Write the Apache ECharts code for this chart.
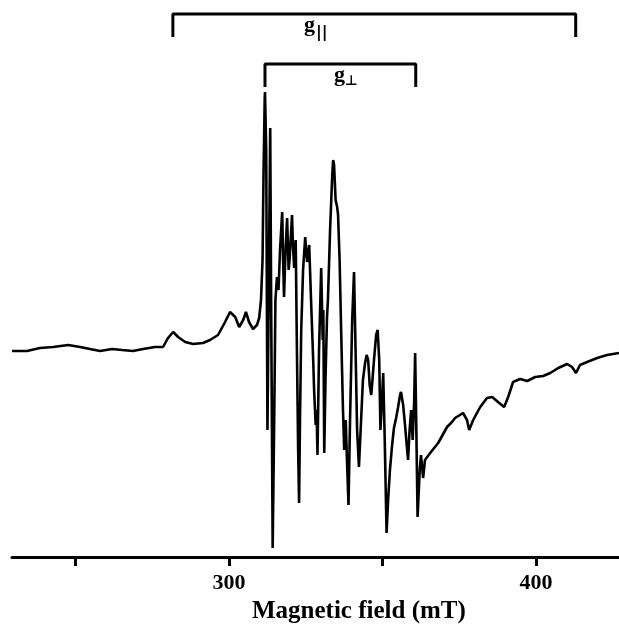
<!DOCTYPE html>
<html>
<head>
<meta charset="utf-8">
<script src="https://cdn.jsdelivr.net/npm/echarts@6/dist/echarts.min.js"></script>
<style>
  html, body { margin: 0; padding: 0; background: #fff; }
  #chart { width: 619px; height: 628px; }
</style>
</head>
<body>
<div id="chart"></div>
<script>
// EPR spectrum: magnetic field (mT) vs. first-derivative signal (arbitrary units)
const field = [
  229.3, 234.2, 238.4, 242.7, 247.6, 251.5, 254.7, 258.0, 261.9, 265.1,
  268.7, 272.0, 275.9, 278.5, 280.1, 281.8, 283.4, 285.7, 288.3, 291.5,
  293.8, 296.4, 298.7, 300.3, 302.0, 303.3, 304.6, 305.5, 306.5, 307.8,
  309.1, 309.8, 310.4, 310.9, 311.2, 311.6, 311.7, 312.1, 312.5, 312.9,
  313.4, 313.7, 314.2, 314.7, 315.1, 315.6, 316.1, 316.6, 317.3, 317.6,
  317.9, 318.4, 318.9, 319.4, 319.7, 320.5, 320.8, 321.2, 321.7, 322.1,
  322.5, 322.8, 323.1, 323.5, 324.1, 324.8, 325.4, 326.1, 326.7, 327.4,
  327.7, 328.2, 328.5, 328.8, 329.3, 330.0, 330.5, 330.7, 331.0, 331.4,
  331.9, 332.2, 332.9, 333.6, 333.9, 334.2, 334.7, 335.2, 335.5, 336.0,
  336.5, 337.1, 337.5, 338.0, 338.4, 338.9, 339.4, 340.1, 340.7, 341.2,
  341.7, 342.3, 343.0, 343.6, 344.3, 344.8, 345.3, 345.8, 346.3, 346.7,
  347.2, 347.9, 348.4, 348.9, 349.3, 349.8, 350.2, 350.7, 351.3, 351.8,
  352.4, 353.1, 353.7, 354.4, 355.0, 355.7, 356.0, 356.7, 357.3, 358.0,
  358.3, 358.8, 359.3, 359.8, 360.3, 360.6, 360.9, 361.4, 362.1, 362.5,
  363.2, 363.8, 365.5, 368.1, 371.0, 372.6, 373.6, 375.2, 376.2, 377.5,
  378.2, 379.5, 381.8, 384.0, 385.7, 387.6, 389.6, 390.9, 392.5, 394.8,
  397.1, 399.7, 402.3, 404.6, 407.2, 410.1, 411.7, 413.0, 414.3, 416.6,
  419.9, 423.1, 427.0
];
const signal = [
  0, 0, 3, 4, 6, 4, 2, 0, 2, 1,
  0, 2, 4, 4, 13, 19, 14, 9, 7, 8,
  11, 16, 29, 39, 34, 24, 31, 39, 29, 22,
  26, 33, 51, 91, 171, 251, 259, 201, -79, 51,
  223, 51, -197, -69, 51, 74, 61, 101, 139, 91,
  54, 101, 133, 81, 91, 136, 106, 83, 111, 1,
  -99, -152, -69, 21, 81, 114, 89, 106, 51, -9,
  -39, -74, -59, -104, 1, 83, 11, 41, -102, -29,
  34, 51, 121, 176, 191, 186, 151, 144, 136, 91,
  21, -59, -99, -69, -109, -154, -69, 31, 79, 1,
  -79, -116, -69, -29, -12, -4, -9, -34, -44, -29,
  -9, 16, 21, -9, -79, -49, -22, -89, -182, -149,
  -119, -94, -77, -67, -57, -44, -41, -54, -74, -99,
  -109, -79, -59, -89, -49, -2, -59, -166, -119, -104,
  -127, -109, -102, -92, -76, -71, -67, -64, -62, -69,
  -79, -69, -56, -47, -46, -51, -56, -46, -31, -28,
  -30, -26, -25, -22, -17, -13, -16, -22, -14, -11,
  -7, -4, -2
];

// Axis ticks and labels
const tickValues = [250, 300, 350, 400];
const labelValues = [300, 400];

// Hyperfine brackets: [start field, end field, bar level, leg end level]
const gParallel = [281.7, 412.9, 337, 314];
const gPerp = [311.7, 360.8, 287, 264];

function bracket(b) {
  return [[b[0], b[3]], [b[0], b[2]], [b[1], b[2]], [b[1], b[3]]];
}

const serif = '"Liberation Serif", "Times New Roman", serif';
const chart = echarts.init(document.getElementById('chart'), null, { renderer: 'canvas' });

chart.setOption({
  animation: false,
  backgroundColor: '#ffffff',
  grid: { left: 12, right: 0, top: 0, bottom: 71, containLabel: false },
  xAxis: {
    type: 'value',
    position: 'bottom',
    min: 229.3,
    max: 427,
    axisLine: { show: true, onZero: false, lineStyle: { color: '#000', width: 3 } },
    axisTick: { show: true, length: 9, inside: false, customValues: tickValues,
                lineStyle: { color: '#000', width: 3 } },
    axisLabel: { show: true, customValues: labelValues, margin: 15,
                 fontFamily: serif, fontWeight: 'bold', fontSize: 22, color: '#000' },
    splitLine: { show: false }
  },
  yAxis: {
    type: 'value',
    min: -206,
    max: 351,
    show: false,
    splitLine: { show: false }
  },
  series: [
    {
      type: 'line',
      data: field.map((b, i) => [b, signal[i]]),
      showSymbol: false,
      smooth: false,
      lineStyle: { color: '#000', width: 2.6 },
      clip: false
    },
    {
      type: 'line',
      data: bracket(gParallel),
      showSymbol: false,
      lineStyle: { color: '#000', width: 3 },
      clip: false
    },
    {
      type: 'line',
      data: bracket(gPerp),
      showSymbol: false,
      lineStyle: { color: '#000', width: 3 },
      clip: false
    }
  ],
  graphic: [
    {
      type: 'text',
      left: 304, top: 14,
      style: {
        text: '{g|g}{s|||}',
        rich: {
          g: { fontFamily: serif, fontWeight: 'bold', fontSize: 22, fill: '#000' },
          s: { fontFamily: '"DejaVu Sans", sans-serif', fontWeight: 'bold', fontSize: 16, fill: '#000', padding: [15, 0, 0, 1] }
        }
      }
    },
    {
      type: 'text',
      left: 334, top: 64,
      style: {
        text: '{g|g}{s|⊥}',
        rich: {
          g: { fontFamily: serif, fontWeight: 'bold', fontSize: 22, fill: '#000' },
          s: { fontFamily: '"DejaVu Sans", sans-serif', fontWeight: 'bold', fontSize: 14, fill: '#000', padding: [12, 0, 0, 0] }
        }
      }
    },
    {
      type: 'text',
      left: 252, top: 599,
      style: {
        text: 'Magnetic field (mT)',
        fontFamily: serif, fontWeight: 'bold', fontSize: 25, fill: '#000'
      }
    }
  ]
});
</script>
</body>
</html>
